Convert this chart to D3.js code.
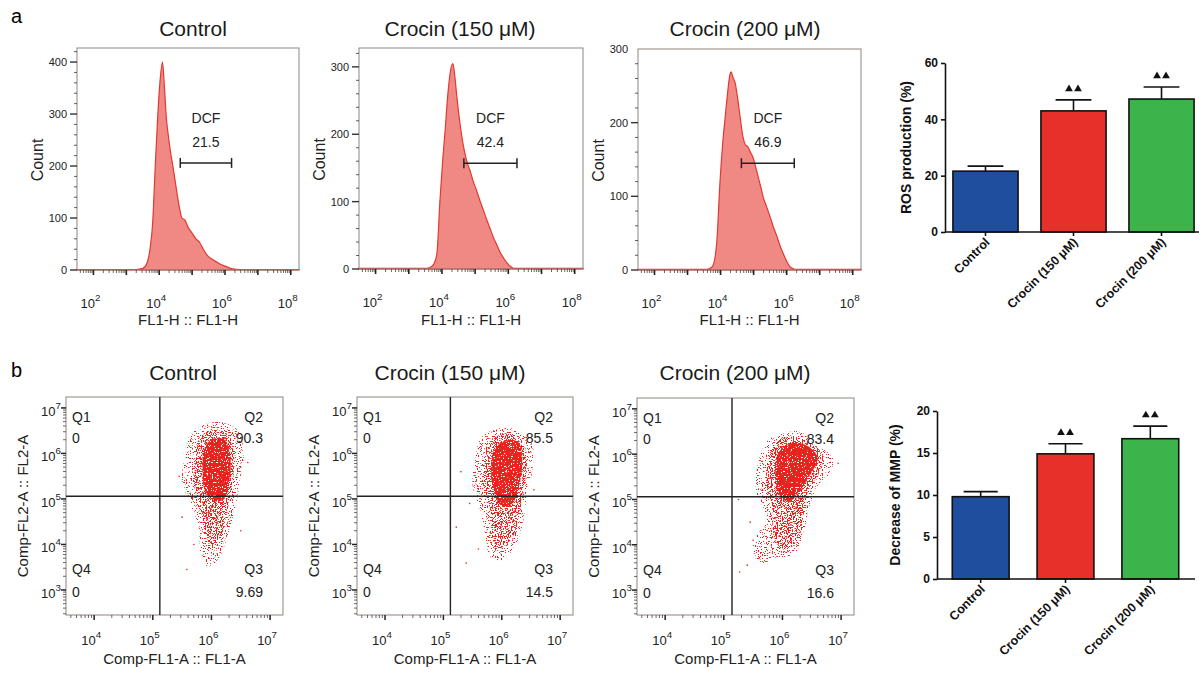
<!DOCTYPE html>
<html>
<head>
<meta charset="utf-8">
<script src="https://cdnjs.cloudflare.com/ajax/libs/d3/7.8.5/d3.min.js"></script>
<style>
  body { margin: 0; background: #fff; }
  svg { font-family: Arial, "Liberation Sans", sans-serif; }
</style>
</head>
<body>
<svg id="fig" width="1199" height="673"></svg>
<script>
// ---------------- data ----------------
const groups = ["Control", "Crocin (150 μM)", "Crocin (200 μM)"];
const groupColors = ["#1f4e9e", "#e8302a", "#3cb44b"];

// DCF histograms: [log10 FL1-H, count]
const histControl = [[1.5,1],[3.3,1],[3.5,3],[3.62,12],[3.72,40],[3.8,90],[3.88,200],[3.95,290],[4.02,360],[4.1,400],[4.16,350],[4.22,290],[4.27,262],[4.34,228],[4.42,198],[4.54,148],[4.62,118],[4.69,100],[4.78,96],[4.88,82],[5.0,71],[5.12,60],[5.24,52],[5.34,40],[5.45,29],[5.6,21],[5.76,15],[5.9,10],[6.06,6],[6.24,2],[6.45,1],[8.25,1]];
const hist150 = [[1.5,1],[3.55,1],[3.7,4],[3.78,10],[3.85,24],[3.94,102],[4.02,160],[4.09,202],[4.18,261],[4.26,295],[4.33,305],[4.39,285],[4.45,255],[4.54,217],[4.62,190],[4.69,172],[4.76,158],[4.84,147],[4.93,132],[5.04,117],[5.14,102],[5.25,87],[5.35,73],[5.45,60],[5.54,48],[5.65,36],[5.75,25],[5.86,16],[5.96,9],[6.06,4],[6.16,1],[8.25,1]];
const hist200 = [[1.5,1],[3.6,1],[3.74,4],[3.82,14],[3.89,41],[3.98,118],[4.06,170],[4.14,208],[4.23,248],[4.28,265],[4.32,269],[4.37,262],[4.44,254],[4.52,232],[4.59,208],[4.68,180],[4.75,170],[4.83,167],[4.9,160],[4.98,153],[5.06,140],[5.14,126],[5.22,112],[5.29,99],[5.4,85],[5.5,72],[5.6,58],[5.71,45],[5.8,33],[5.89,23],[6.0,12],[6.11,4],[6.25,1],[8.25,1]];
const histYMax = [427, 328, 300];
const histYTicks = [[0,100,200,300,400],[0,100,200,300],[0,100,200,300]];
const histXLabels = [2, 4, 6, 8];
const dcfPercent = ["21.5", "42.4", "46.9"];
const dcfGates = [[4.64,6.2,206],[4.66,6.26,157],[4.63,6.23,145]]; // [from, to, at count]

// quadrant plots (log10 values)
const quadQ1 = ["0", "0", "0"];
const quadQ2 = ["90.3", "85.5", "83.4"];
const quadQ3 = ["9.69", "14.5", "16.6"];
const quadQ4 = ["0", "0", "0"];
const quadGates = [[5.12,5.06],[5.12,5.06],[5.14,5.06]];
const quadXLabels = [4, 5, 6, 7];
const quadYLabels = [3, 4, 5, 6, 7];
// event cloud outlines: sparse halo, medium, dense core
const cloudOuter = [
  [[5.55,5.95],[5.65,6.45],[5.9,6.65],[6.2,6.68],[6.45,6.5],[6.55,6.0],[6.5,5.5],[6.42,4.9],[6.3,4.3],[6.15,3.75],[5.95,3.5],[5.82,3.8],[5.78,4.4],[5.62,4.95],[5.5,5.4]],
  [[5.55,5.9],[5.65,6.35],[5.95,6.55],[6.3,6.5],[6.52,6.2],[6.52,5.6],[6.42,5.0],[6.35,4.4],[6.2,3.9],[5.98,3.65],[5.78,3.75],[5.72,4.2],[5.62,4.8],[5.5,5.3]],
  [[5.6,5.9],[5.75,6.3],[6.0,6.45],[6.3,6.5],[6.55,6.2],[6.85,5.95],[6.82,5.6],[6.6,5.3],[6.45,4.8],[6.35,4.2],[6.2,3.8],[5.9,3.7],[5.6,3.6],[5.5,4.0],[5.72,4.6],[5.55,5.2]]
];
const cloudMid = [
  [[5.72,5.8],[5.78,6.3],[5.98,6.5],[6.25,6.45],[6.38,6.05],[6.36,5.4],[6.28,4.8],[6.18,4.25],[6.0,3.95],[5.88,4.3],[5.82,4.9],[5.7,5.3]],
  [[5.7,5.75],[5.76,6.2],[6.0,6.42],[6.28,6.38],[6.42,6.05],[6.4,5.4],[6.3,4.7],[6.2,4.2],[5.98,3.9],[5.85,4.1],[5.8,4.8],[5.68,5.3]],
  [[5.75,5.75],[5.85,6.2],[6.1,6.38],[6.4,6.3],[6.7,5.95],[6.6,5.55],[6.45,5.2],[6.35,4.6],[6.25,4.05],[6.0,3.9],[5.85,4.2],[5.82,4.9],[5.72,5.3]]
];
const cloudCore = [
  [[5.85,5.55],[5.88,6.1],[6.02,6.32],[6.22,6.3],[6.32,5.95],[6.3,5.35],[6.22,5.0],[6.05,4.95],[5.9,5.15]],
  [[5.82,5.5],[5.86,6.05],[6.05,6.28],[6.28,6.25],[6.35,5.9],[6.3,5.3],[6.18,4.9],[6.0,4.85],[5.88,5.1]],
  [[5.88,5.5],[5.92,6.0],[6.1,6.22],[6.4,6.2],[6.6,5.92],[6.5,5.6],[6.3,5.2],[6.1,4.95],[5.95,5.1]]
];
const cloudStray = [
  [[5.58,3.45],[5.5,4.6],[5.45,5.5],[6.62,5.8],[6.5,4.3],[5.7,4.0]],
  [[5.39,3.59],[5.22,4.38],[5.3,5.6],[5.45,4.9],[6.55,5.2],[5.6,3.9]],
  [[5.27,3.4],[5.5,4.1],[5.6,3.7],[5.25,5.0],[5.45,4.5],[6.95,5.8],[5.4,3.55]]
];

// summary bars
const rosMean = [21.6, 43.0, 47.2];
const rosSem = [1.8, 3.9, 4.3];
const mmpMean = [9.8, 14.9, 16.7];
const mmpSem = [0.6, 1.2, 1.5];
const sigMarks = [false, true, true];

// ---------------- drawing ----------------
const svg = d3.select("#fig");
const defs = svg.append("defs");
const frameColor = "#8f8480";
const dotRed = "#e8231d";

function powLabel(g, x, y, exp, size, anchor) {
  const t = g.append("text").attr("x", x).attr("y", y)
    .attr("text-anchor", anchor || "middle").attr("font-size", size).attr("fill", "#222");
  t.append("tspan").text("10");
  t.append("tspan").attr("dy", -size * 0.55).attr("font-size", size * 0.75).text(exp);
}

function logMinors(lo, hi) {
  const out = [];
  for (let d = Math.floor(lo); d <= Math.ceil(hi); d++) {
    for (let m = 2; m <= 9; m++) {
      const v = d + Math.log10(m);
      if (v > lo && v < hi) out.push(v);
    }
  }
  return out;
}

// speckle textures to imitate dense event dots (colour comes from a flood, noise only sets alpha)
function speckle(id, threshold) {
  const f = defs.append("filter").attr("id", id)
    .attr("color-interpolation-filters", "sRGB");
  f.append("feTurbulence").attr("type", "fractalNoise").attr("baseFrequency", 0.8)
    .attr("numOctaves", 2).attr("seed", 11).attr("result", "noise");
  f.append("feColorMatrix").attr("in", "noise").attr("type", "matrix")
    .attr("values", `0 0 0 0 0  0 0 0 0 0  0 0 0 0 0  25 0 0 0 ${-25 * threshold}`)
    .attr("result", "mask");
  f.append("feFlood").attr("flood-color", dotRed).attr("result", "red");
  f.append("feComposite").attr("in", "red").attr("in2", "mask").attr("operator", "in").attr("result", "dots");
  f.append("feComposite").attr("in", "dots").attr("in2", "SourceAlpha").attr("operator", "in");
}
speckle("spk-sparse", 0.6);
speckle("spk-mid", 0.5);
speckle("spk-core", 0.32);

svg.append("text").attr("x", 11).attr("y", 23).attr("font-size", 20).text("a");
svg.append("text").attr("x", 11).attr("y", 377).attr("font-size", 20).text("b");

// ---- panel a: histograms ----
const histBoxes = [
  { x: 77, y: 48, w: 222, h: 222, tx: 193 },
  { x: 359, y: 48, w: 224, h: 221, tx: 460 },
  { x: 638, y: 49, w: 223, h: 221, tx: 745 }
];
const histSeries = [histControl, hist150, hist200];

histSeries.forEach((series, i) => {
  const b = histBoxes[i];
  const g = svg.append("g");
  const x = d3.scaleLinear().domain([1.5, 8.25]).range([b.x, b.x + b.w]);
  const y = d3.scaleLinear().domain([0, histYMax[i]]).range([b.y + b.h, b.y]);

  g.append("text").attr("x", b.tx).attr("y", 36).attr("text-anchor", "middle")
    .attr("font-size", 21).attr("fill", "#1a1a1a").text(groups[i]);

  const area = d3.area().x(d => x(d[0])).y0(y(0)).y1(d => y(d[1])).curve(d3.curveMonotoneX);
  g.append("path").datum(series).attr("d", area)
    .attr("fill", "#f08884").attr("stroke", "#df3a31").attr("stroke-width", 1.2);

  g.append("rect").attr("x", b.x).attr("y", b.y).attr("width", b.w).attr("height", b.h)
    .attr("fill", "none").attr("stroke", frameColor).attr("stroke-width", 1);

  // x ticks
  const x0 = b.y + b.h;
  d3.range(2, 9).forEach(d => {
    g.append("line").attr("x1", x(d)).attr("x2", x(d)).attr("y1", x0).attr("y2", x0 + 5)
      .attr("stroke", "#222").attr("stroke-width", 1.6);
  });
  logMinors(1.5, 8.25).forEach(v => {
    g.append("line").attr("x1", x(v)).attr("x2", x(v)).attr("y1", x0).attr("y2", x0 + 3)
      .attr("stroke", "#444").attr("stroke-width", 0.8);
  });
  histXLabels.forEach(d => powLabel(g, x(d) - 3, x0 + 38, d, 13));
  g.append("text").attr("x", b.x + b.w / 2).attr("y", 325).attr("text-anchor", "middle")
    .attr("font-size", 15).attr("fill", "#222").text("FL1-H :: FL1-H");

  // y ticks
  d3.range(0, histYMax[i], 20).forEach(v => {
    const major = v % 100 === 0;
    g.append("line").attr("x1", b.x).attr("x2", b.x - (major ? 7 : 3))
      .attr("y1", y(v)).attr("y2", y(v)).attr("stroke", "#333").attr("stroke-width", major ? 1.4 : 0.8);
  });
  histYTicks[i].forEach(v => {
    g.append("text").attr("x", b.x - 10).attr("y", y(v) + 4).attr("text-anchor", "end")
      .attr("font-size", 11).attr("fill", "#222").text(v);
  });
  g.append("text").attr("transform", `translate(${b.x - 34},${b.y + b.h / 2 + 1}) rotate(-90)`)
    .attr("text-anchor", "middle").attr("font-size", 16).attr("fill", "#222").text("Count");

  // DCF gate
  const gate = dcfGates[i];
  const gy = y(gate[2]);
  g.append("line").attr("x1", x(gate[0])).attr("x2", x(gate[1])).attr("y1", gy).attr("y2", gy)
    .attr("stroke", "#222").attr("stroke-width", 1.5);
  [gate[0], gate[1]].forEach(v => {
    g.append("line").attr("x1", x(v)).attr("x2", x(v)).attr("y1", gy - 5).attr("y2", gy + 5)
      .attr("stroke", "#222").attr("stroke-width", 1.5);
  });
  const cx = (x(gate[0]) + x(gate[1])) / 2;
  g.append("text").attr("x", cx).attr("y", gy - 40).attr("text-anchor", "middle")
    .attr("font-size", 14).attr("fill", "#222").text("DCF");
  g.append("text").attr("x", cx).attr("y", gy - 16).attr("text-anchor", "middle")
    .attr("font-size", 14).attr("fill", "#222").text(dcfPercent[i]);
});

// ---- panel b: quadrant dot plots ----
const quadBoxes = [
  { x: 66, y: 397, w: 217, h: 218, tx: 183 },
  { x: 357, y: 397, w: 216, h: 218, tx: 450 },
  { x: 637, y: 398, w: 217, h: 217, tx: 735 }
];
const cloudLine = d3.line().curve(d3.curveCatmullRomClosed.alpha(0.5));

quadBoxes.forEach((b, i) => {
  const g = svg.append("g");
  const x = d3.scaleLinear().domain([3.52, 7.22]).range([b.x, b.x + b.w]);
  const y = d3.scaleLinear().domain([2.45, 7.24]).range([b.y + b.h, b.y]);
  const toPx = p => [x(p[0]), y(p[1])];

  g.append("text").attr("x", b.tx).attr("y", 380).attr("text-anchor", "middle")
    .attr("font-size", 21).attr("fill", "#1a1a1a").text(groups[i]);

  g.append("rect").attr("x", b.x).attr("y", b.y).attr("width", b.w).attr("height", b.h)
    .attr("fill", "#fff").attr("stroke", frameColor).attr("stroke-width", 1);

  // event clouds
  g.append("path").attr("d", cloudLine(cloudOuter[i].map(toPx)))
    .attr("fill", dotRed).attr("filter", "url(#spk-sparse)");
  g.append("path").attr("d", cloudLine(cloudMid[i].map(toPx)))
    .attr("fill", dotRed).attr("filter", "url(#spk-mid)");
  g.append("path").attr("d", cloudLine(cloudCore[i].map(toPx)))
    .attr("fill", dotRed).attr("filter", "url(#spk-core)");
  g.selectAll("circle.stray").data(cloudStray[i]).join("circle")
    .attr("cx", d => x(d[0])).attr("cy", d => y(d[1])).attr("r", 0.8).attr("fill", dotRed);

  // quadrant gates
  const gate = quadGates[i];
  g.append("line").attr("x1", x(gate[0])).attr("x2", x(gate[0])).attr("y1", b.y).attr("y2", b.y + b.h)
    .attr("stroke", "#222").attr("stroke-width", 1.4);
  g.append("line").attr("x1", b.x).attr("x2", b.x + b.w).attr("y1", y(gate[1])).attr("y2", y(gate[1]))
    .attr("stroke", "#222").attr("stroke-width", 1.4);

  // quadrant labels
  const qs = 14;
  const left = b.x + 6, right = b.x + b.w - 20;
  [["Q1", left, 25, "start"], [quadQ1[i], left, 46, "start"],
   ["Q2", right, 25, "end"], [quadQ2[i], right, 46, "end"],
   ["Q4", left, 177, "start"], [quadQ4[i], left, 200, "start"],
   ["Q3", right, 177, "end"], [quadQ3[i], right, 200, "end"]].forEach(q => {
    g.append("text").attr("x", q[1]).attr("y", b.y + q[2]).attr("text-anchor", q[3])
      .attr("font-size", qs).attr("fill", "#222").text(q[0]);
  });

  // axes
  const xb = b.y + b.h;
  d3.range(4, 8).forEach(d => {
    g.append("line").attr("x1", x(d)).attr("x2", x(d)).attr("y1", xb).attr("y2", xb + 5)
      .attr("stroke", "#222").attr("stroke-width", 1.5);
  });
  logMinors(3.52, 7.22).forEach(v => {
    g.append("line").attr("x1", x(v)).attr("x2", x(v)).attr("y1", xb).attr("y2", xb + 3)
      .attr("stroke", "#444").attr("stroke-width", 0.8);
  });
  d3.range(3, 8).forEach(d => {
    g.append("line").attr("x1", b.x).attr("x2", b.x - 5).attr("y1", y(d)).attr("y2", y(d))
      .attr("stroke", "#222").attr("stroke-width", 1.5);
  });
  logMinors(2.45, 7.24).forEach(v => {
    g.append("line").attr("x1", b.x).attr("x2", b.x - 3).attr("y1", y(v)).attr("y2", y(v))
      .attr("stroke", "#444").attr("stroke-width", 0.8);
  });
  quadXLabels.forEach(d => powLabel(g, x(d) - 3, xb + 30, d, 13));
  quadYLabels.forEach(d => powLabel(g, b.x - 5, y(d) + 8, d, 13, "end"));

  g.append("text").attr("x", b.x + b.w / 2).attr("y", 664).attr("text-anchor", "middle")
    .attr("font-size", 15).attr("fill", "#222").text("Comp-FL1-A :: FL1-A");
  g.append("text").attr("transform", `translate(${b.x - 38},${b.y + b.h / 2}) rotate(-90)`)
    .attr("text-anchor", "middle").attr("font-size", 15).attr("fill", "#222").text("Comp-FL2-A :: FL2-A");
});

// ---- summary bar charts ----
function barChart(o) {
  const g = svg.append("g").attr("font-weight", "bold");
  const x = d3.scaleBand().domain(groups).range([o.axisX, o.rangeEnd])
    .paddingInner(o.padIn).paddingOuter(o.padOut);
  const y = d3.scaleLinear().domain([0, o.yMax]).range([o.y0, o.yTop]);
  const bw = x.bandwidth();

  // error bars (upper only)
  groups.forEach((k, i) => {
    const cx = x(k) + bw / 2;
    g.append("line").attr("x1", cx).attr("x2", cx).attr("y1", y(o.mean[i])).attr("y2", y(o.mean[i] + o.err[i]))
      .attr("stroke", "#111").attr("stroke-width", 1.6);
    g.append("line").attr("x1", cx - bw * o.cap / 2).attr("x2", cx + bw * o.cap / 2)
      .attr("y1", y(o.mean[i] + o.err[i])).attr("y2", y(o.mean[i] + o.err[i]))
      .attr("stroke", "#111").attr("stroke-width", 1.6);
  });

  g.selectAll("rect.bar").data(groups).join("rect")
    .attr("x", d => x(d)).attr("width", bw)
    .attr("y", (d, i) => y(o.mean[i])).attr("height", (d, i) => y(0) - y(o.mean[i]))
    .attr("fill", (d, i) => groupColors[i]).attr("stroke", "#111").attr("stroke-width", 1.6);

  // significance triangles
  groups.forEach((k, i) => {
    if (!sigMarks[i]) return;
    const cx = x(k) + bw / 2, ty = y(o.mean[i] + o.err[i]) - 11;
    [-4.5, 4.5].forEach(dx => {
      g.append("path").attr("d", d3.symbol(d3.symbolTriangle, 26)())
        .attr("transform", `translate(${cx + dx},${ty})`).attr("fill", "#111");
    });
  });

  const yAxis = d3.axisLeft(y).tickValues(o.ticks).tickSize(4).tickSizeOuter(0).tickPadding(3);
  const ya = g.append("g").attr("transform", `translate(${o.axisX},0)`).call(yAxis);
  ya.select(".domain").attr("stroke", "#111").attr("stroke-width", 1.6);
  ya.selectAll(".tick line").attr("stroke", "#111").attr("stroke-width", 1.6);
  ya.selectAll(".tick text").attr("font-size", 12).attr("font-family", "Arial, 'Liberation Sans', sans-serif").attr("fill", "#111");

  g.append("line").attr("x1", o.axisX).attr("x2", o.xEnd).attr("y1", o.y0).attr("y2", o.y0)
    .attr("stroke", "#111").attr("stroke-width", 1.6);
  groups.forEach(k => {
    const cx = x(k) + bw / 2;
    g.append("line").attr("x1", cx).attr("x2", cx).attr("y1", o.y0).attr("y2", o.y0 + 4)
      .attr("stroke", "#111").attr("stroke-width", 1.6);
    g.append("text").attr("transform", `translate(${cx + 5},${o.y0 + 11}) rotate(-45)`)
      .attr("text-anchor", "end").attr("font-size", 12.5).attr("fill", "#111").text(k);
  });

  g.append("text").attr("transform", `translate(${o.labelX},${(o.y0 + y(o.yMax)) / 2}) rotate(-90)`)
    .attr("text-anchor", "middle").attr("font-size", 14).attr("fill", "#111").text(o.label);
}

barChart({
  axisX: 945, rangeEnd: 1202, padIn: 0.26, padOut: 0.09, xEnd: 1199,
  y0: 232, yTop: 63, yMax: 60, ticks: [0, 20, 40, 60], cap: 0.55,
  mean: rosMean, err: rosSem, label: "ROS production (%)", labelX: 911
});
barChart({
  axisX: 937, rangeEnd: 1194, padIn: 0.33, padOut: 0.18, xEnd: 1195,
  y0: 579, yTop: 411, yMax: 20, ticks: [0, 5, 10, 15, 20], cap: 0.6,
  mean: mmpMean, err: mmpSem, label: "Decrease of MMP (%)", labelX: 900
});
</script>
</body>
</html>
